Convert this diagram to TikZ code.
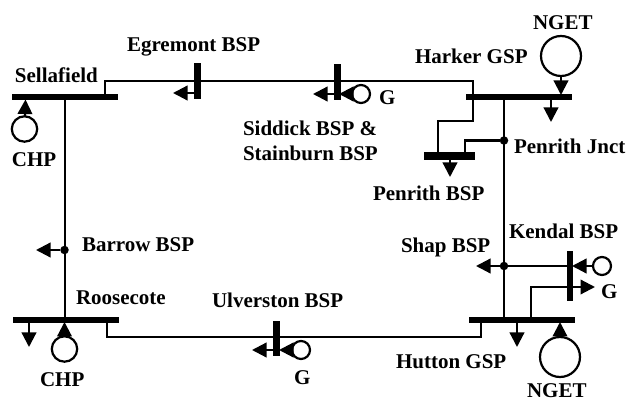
\documentclass[tikz,border=0pt]{standalone}
\usepackage{fontspec}
\setmainfont{Liberation Serif}
\usetikzlibrary{arrows.meta}
\tikzset{
  wire/.style={line width=2.2pt,draw=black,miter limit=10},
  feed/.style={wire,-{Triangle[length=14.5pt,width=14.5pt]}},
  hbus/.style={rectangle,fill=black,inner sep=0pt,outer sep=0pt,minimum height=5.8pt},
  vbus/.style={rectangle,fill=black,inner sep=0pt,outer sep=0pt,minimum width=7pt},
  gen/.style={circle,draw=black,line width=2.2pt,inner sep=0pt,outer sep=0pt,minimum size=#1},
  jn/.style={circle,fill=black,inner sep=0pt,outer sep=0pt,minimum size=8.5pt},
  lab/.style={anchor=base west,inner sep=0pt,outer sep=0pt,font=\bfseries\fontsize{21pt}{24pt}\selectfont}
}
\begin{document}
\begin{tikzpicture}[x=1pt,y=-1pt]
\useasboundingbox (0,0) rectangle (627,403);
% busbars
\node[hbus,minimum width=106pt] (sella) at (65,97) {};
\node[hbus,minimum width=106pt] (harker) at (519,97) {};
\node[hbus,minimum width=51pt,minimum height=7.5pt] (penrith) at (449.5,156) {};
\node[hbus,minimum width=106pt] (roose) at (66,320) {};
\node[hbus,minimum width=106pt] (hutton) at (522,320) {};
\node[vbus,minimum height=36pt] (egre) at (197,81) {};
\node[vbus,minimum height=36pt] (sidd) at (337,82) {};
\node[vbus,minimum height=35pt] (ulve) at (276,338.5) {};
\node[vbus,minimum height=50pt,minimum width=5.8pt] (kend) at (570,276) {};
% junctions
\node[jn] (pjn) at (504,140.5) {};
\node[jn] (barrow) at (64.5,250) {};
\node[jn] (shap) at (504,266) {};
% generators
\node[gen=40pt] (ngetn) at (561,56) {};
\node[gen=40pt] (ngets) at (560,357) {};
\node[gen=25.4pt] (chpn) at (24.5,129) {};
\node[gen=25.4pt] (chps) at (64.5,349) {};
\node[gen=18pt] (gsid) at (361,94) {};
\node[gen=18pt] (gulv) at (301,350) {};
\node[gen=18pt] (gken) at (602,266) {};
% free ends
\coordinate (a1) at (105,97);
\coordinate (a2) at (105,81);
\coordinate (a3) at (473,81);
\coordinate (a5) at (473,121);
\coordinate (a6) at (438,121);
\coordinate (a7) at (438,156);
\coordinate (b1) at (465,140.5);
\coordinate (b2) at (465,156);
\coordinate (c1) at (107,320);
\coordinate (c2) at (107,337);
\coordinate (c3) at (481,337);
\coordinate (c4) at (481,320);
\coordinate (d1) at (531,320);
\coordinate (d2) at (531,287);
\coordinate (d3) at (595,287);
\coordinate (e1) at (65,97);
\coordinate (e2) at (65,320);
\coordinate (f1) at (504,97);
\coordinate (f2) at (504,320);
\coordinate (t1) at (173,93);
\coordinate (t1s) at (197,93);
\coordinate (t2) at (313,94);
\coordinate (t2s) at (337,94);
\coordinate (t3) at (339,94);
\coordinate (t4) at (252,350);
\coordinate (t4s) at (276,350);
\coordinate (t5) at (279,350);
\coordinate (t6) at (476,266);
\coordinate (t7) at (572,266);
\coordinate (t7s) at (570,266);
\coordinate (t8) at (36,250);
\coordinate (l1s) at (450,156);
\coordinate (l1) at (450,177);
\coordinate (l2s) at (551,97);
\coordinate (l2) at (551,122);
\coordinate (l3s) at (29,320);
\coordinate (l3) at (29,347);
\coordinate (l4s) at (517,320);
\coordinate (l4) at (517,347);
\coordinate (g1) at (561,95);
\coordinate (g2) at (560,322);
\coordinate (g3) at (25.5,99.5);
\coordinate (g4) at (64.5,322);
% lines
\draw[wire] (a1) -- (a2) -- (a3) -- (a5) -- (a6) -- (a7);
\draw[wire] (pjn) -- (b1) -- (b2);
\draw[wire] (c1) -- (c2) -- (c3) -- (c4);
\draw[wire] (e1) -- (e2);
\draw[wire] (f1) -- (f2);
\draw[wire] (shap) -- (t7s);
\draw[feed] (d1) -- (d2) -- (d3);
\draw[feed] (t1s) -- (t1);
\draw[feed] (t2s) -- (t2);
\draw[feed] (gsid) -- (t3);
\draw[feed] (t4s) -- (t4);
\draw[feed] (gulv) -- (t5);
\draw[feed] (shap) -- (t6);
\draw[feed] (gken) -- (t7);
\draw[feed] (barrow) -- (t8);
\draw[feed] (l1s) -- (l1);
\draw[feed] (l2s) -- (l2);
\draw[feed] (l3s) -- (l3);
\draw[feed] (l4s) -- (l4);
\draw[feed] (ngetn) -- (g1);
\draw[feed] (ngets) -- (g2);
\draw[feed] (chpn) -- (g3);
\draw[feed] (chps) -- (g4);
% labels
\node[lab] (t01) at (15,83) {Sellafield};
\node[lab] (t02) at (127,52) {Egremont BSP};
\node[lab] (t03) at (243,136) {Siddick BSP \&};
\node[lab] (t04) at (243,161) {Stainburn BSP};
\node[lab] (t05) at (12,167) {CHP};
\node[lab] (t06) at (533,30) {NGET};
\node[lab] (t07) at (415,64) {Harker GSP};
\node[lab] (t08) at (379,105) {G};
\node[lab] (t09) at (514,154) {Penrith Jnct};
\node[lab] (t10) at (373,201) {Penrith BSP};
\node[lab] (t11) at (82,252) {Barrow BSP};
\node[lab] (t12) at (76,305) {Roosecote};
\node[lab] (t13) at (212,308) {Ulverston BSP};
\node[lab] (t14) at (40,387) {CHP};
\node[lab] (t15) at (294,385) {G};
\node[lab] (t16) at (509,239) {Kendal BSP};
\node[lab] (t17) at (401,253) {Shap BSP};
\node[lab] (t18) at (601,299) {G};
\node[lab] (t19) at (396,369) {Hutton GSP};
\node[lab] (t20) at (527,398) {NGET};
\end{tikzpicture}
\end{document}
